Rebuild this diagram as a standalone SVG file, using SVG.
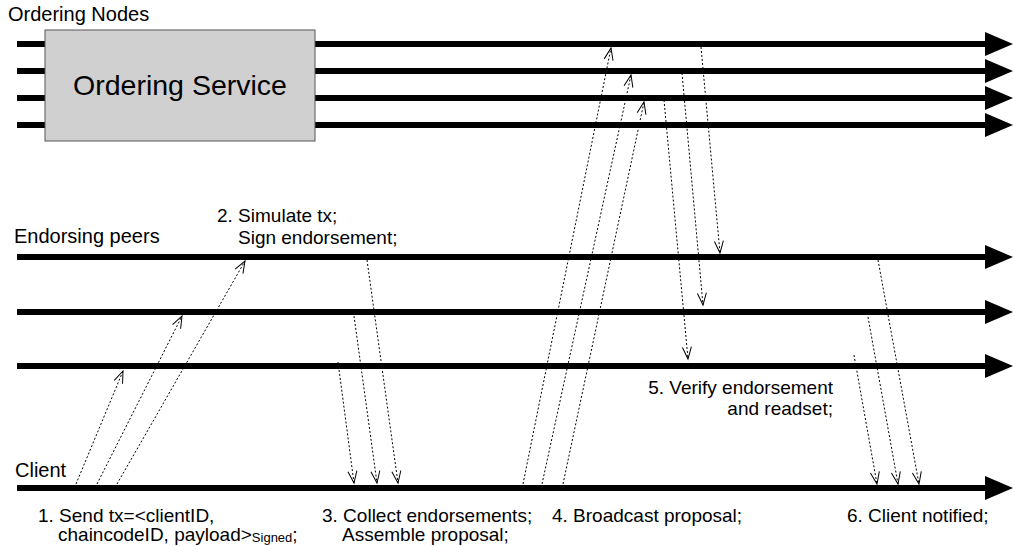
<svg xmlns="http://www.w3.org/2000/svg" width="1013" height="546" viewBox="0 0 1013 546">
<style>
.t{font-family:"Liberation Sans",Arial,sans-serif;font-size:20px;fill:#000}
.s{font-size:19px}
.big{font-size:28.5px}
.lane{stroke:#000;stroke-width:6;fill:none}
.head{fill:#000;stroke:none}
.msg{stroke:#000;stroke-width:1;stroke-dasharray:2,2;fill:none;marker-end:url(#v)}
</style>
<defs>
<marker id="v" viewBox="-14 -7 16 14" markerWidth="16" markerHeight="14" refX="0" refY="0" orient="auto" markerUnits="userSpaceOnUse">
<path d="M-12,-4.5 L0,0 L-12,4.5" fill="none" stroke="#000" stroke-width="1"/>
</marker>
<path id="ah" d="M0,-12 L28,0 L0,12 Z"/>
</defs>
<rect width="1013" height="546" fill="#fff"/>

<g id="ordering-lanes">
<line class="lane" x1="17" y1="44" x2="986" y2="44"/><use href="#ah" class="head" x="985" y="44"/>
<line class="lane" x1="17" y1="71" x2="986" y2="71"/><use href="#ah" class="head" x="985" y="71"/>
<line class="lane" x1="17" y1="98" x2="986" y2="98"/><use href="#ah" class="head" x="985" y="98"/>
<line class="lane" x1="17" y1="125" x2="986" y2="125"/><use href="#ah" class="head" x="985" y="125"/>
</g>

<g id="ordering-service">
<rect x="45" y="30" width="270" height="111" fill="#d0d0d0" stroke="#555" stroke-width="1"/>
<text class="t big" x="180" y="95" text-anchor="middle">Ordering Service</text>
</g>

<g id="endorsing-lanes">
<line class="lane" x1="17" y1="257" x2="986" y2="257"/><use href="#ah" class="head" x="985" y="257"/>
<line class="lane" x1="17" y1="312" x2="986" y2="312"/><use href="#ah" class="head" x="985" y="312"/>
<line class="lane" x1="17" y1="366" x2="986" y2="366"/><use href="#ah" class="head" x="985" y="366"/>
</g>

<g id="client-lane">
<line class="lane" x1="17" y1="488" x2="986" y2="488"/><use href="#ah" class="head" x="985" y="488"/>
</g>

<g id="labels">
<text class="t" x="8" y="21">Ordering Nodes</text>
<text class="t" x="14" y="243">Endorsing peers</text>
<text class="t" x="15" y="477">Client</text>
<text class="t s" x="217" y="222">2. Simulate tx;</text>
<text class="t s" x="238" y="244">Sign endorsement;</text>
<text class="t s" x="38" y="522">1. Send tx=&lt;clientID,</text>
<text class="t s" x="58" y="541">chaincodeID, payload&gt;<tspan font-size="13" dy="1">Signed</tspan><tspan dy="-1">;</tspan></text>
<text class="t s" x="322" y="522">3. Collect endorsements;</text>
<text class="t s" x="342" y="541">Assemble proposal;</text>
<text class="t s" x="552" y="522">4. Broadcast proposal;</text>
<text class="t s" x="833" y="394" text-anchor="end">5. Verify endorsement</text>
<text class="t s" x="833" y="415" text-anchor="end">and readset;</text>
<text class="t s" x="847" y="522">6. Client notified;</text>
</g>

<g id="connectors">
<line class="msg" x1="76" y1="484" x2="123" y2="371"/>
<line class="msg" x1="97" y1="484" x2="182" y2="316"/>
<line class="msg" x1="117" y1="484" x2="245" y2="261"/>

<line class="msg" x1="367" y1="260" x2="398" y2="483"/>
<line class="msg" x1="354" y1="316" x2="377" y2="483"/>
<line class="msg" x1="338" y1="362" x2="354" y2="483"/>

<line class="msg" x1="523" y1="484" x2="611" y2="48"/>
<line class="msg" x1="542" y1="484" x2="631" y2="75"/>
<line class="msg" x1="563" y1="484" x2="644" y2="102"/>

<line class="msg" x1="701" y1="47" x2="720" y2="253"/>
<line class="msg" x1="682" y1="73" x2="703" y2="305"/>
<line class="msg" x1="664" y1="100" x2="688" y2="359"/>

<line class="msg" x1="878" y1="260" x2="919" y2="484"/>
<line class="msg" x1="868" y1="317" x2="898" y2="484"/>
<line class="msg" x1="854" y1="355" x2="877" y2="484"/>
</g>
</svg>
